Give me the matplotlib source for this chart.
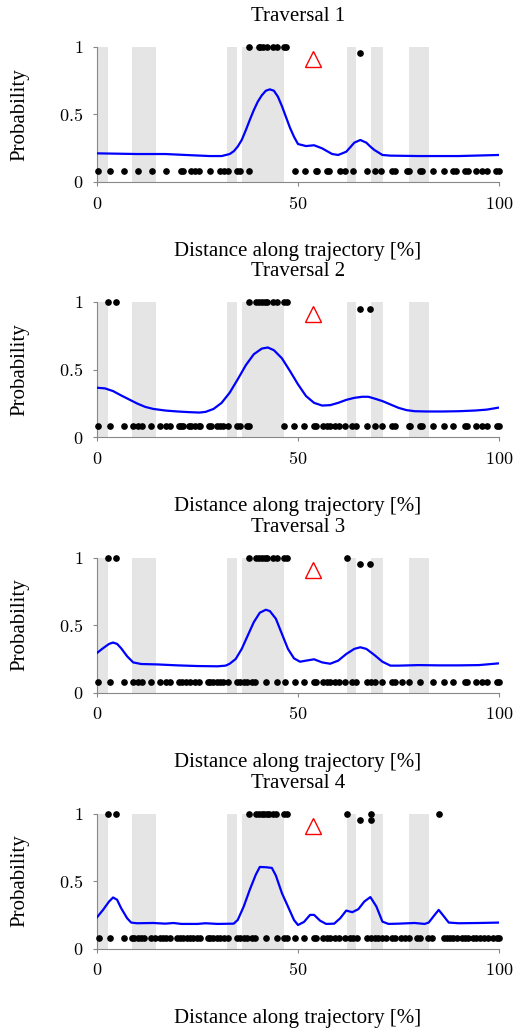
import matplotlib
matplotlib.use("Agg")
from matplotlib import pyplot as plt

plt.rcParams['font.family'] = ['Liberation Serif', 'DejaVu Serif']
plt.rcParams['mathtext.fontset'] = 'cm'

# shaded segments along the trajectory [%]
spans = [(0, 2.7), (8.8, 14.7), (32.4, 34.8), (36.1, 46.5),
         (62.2, 64.5), (68.2, 71.1), (77.5, 82.5)]

marker_x = 53.7
marker_y = 0.91

titles = ["Traversal 1", "Traversal 2", "Traversal 3", "Traversal 4"]

# --- Traversal 1 ---
low1 = [0.2, 3.3, 6.6, 10.2, 13.7, 17.2, 20.9, 21.4, 23.4, 24.4, 25.4, 28.0, 30.5, 31.5,
        32.7, 34.8, 35.5, 37.9, 49.3, 51.8, 54.4, 54.8, 57.2, 57.8, 60.5, 61.7, 63.6,
        67.1, 69.2, 70.7, 73.3, 74.2, 77.1, 77.7, 80.4, 80.8, 83.5, 86.2, 88.6, 89.3,
        91.6, 92.2, 94.3, 95.7, 97.1, 99.3, 100.0]
high1_x = [37.9, 40.2, 40.6, 41.2, 42.4, 43.7, 44.7, 46.4, 47.0, 65.5]
high1_y = [1, 1, 1, 1, 1, 1, 1, 1, 1, 0.95]
curve1_x = [0, 10, 17, 22, 28, 31, 33, 34, 35, 36, 37, 38, 39, 40, 41, 42, 43, 44, 45, 46,
            47, 48, 49, 50, 52, 54, 56, 58.5, 60, 62, 63, 64, 65.5, 67, 68, 69, 71, 73,
            80, 90, 100]
curve1_y = [0.21, 0.205, 0.205, 0.198, 0.19, 0.19, 0.205, 0.225, 0.26, 0.309, 0.38, 0.457,
            0.53, 0.593, 0.64, 0.674, 0.684, 0.674, 0.63, 0.56, 0.48, 0.40, 0.333, 0.279,
            0.264, 0.27, 0.247, 0.205, 0.198, 0.222, 0.255, 0.289, 0.309, 0.289, 0.26,
            0.235, 0.198, 0.193, 0.19, 0.19, 0.198]

# --- Traversal 2 ---
low2 = [0.2, 3.3, 6.6, 8.9, 10.1, 11.2, 13.5, 15.7, 17.2, 18.1, 20.5, 21.0, 21.5, 22.8,
        23.4, 24.3, 25.3, 25.7, 27.8, 28.4, 29.8, 30.5, 31.3, 32.6, 34.8, 35.5, 37.3,
        37.9, 46.6, 49.1, 51.5, 53.9, 54.5, 56.3, 57.2, 58.0, 59.1, 60.1, 61.6, 63.4,
        64.5, 67.1, 69.2, 70.8, 73.3, 74.2, 77.5, 77.9, 80.4, 80.8, 83.5, 86.2, 88.6,
        91.6, 92.0, 94.4, 95.7, 96.9, 99.4, 100.0]
high2_x = [2.7, 4.8, 37.9, 39.6, 40.2, 41.0, 41.8, 42.4, 43.9, 44.7, 46.6, 47.2, 65.5, 67.9]
high2_y = [1, 1, 1, 1, 1, 1, 1, 1, 1, 1, 1, 1, 0.95, 0.95]
curve2_x = [0, 2, 4, 6, 8, 10, 12, 14, 17, 20, 23, 25.5, 27, 29, 31, 33, 35, 37, 39, 41,
            42.5, 44, 46, 48, 50, 52, 54, 56, 58, 60, 62, 64, 66, 67.5, 69, 71, 73, 75,
            77, 79, 82, 86, 90, 94, 97, 100]
curve2_y = [0.365, 0.36, 0.34, 0.308, 0.278, 0.248, 0.223, 0.208, 0.196, 0.189, 0.184,
            0.181, 0.186, 0.208, 0.253, 0.328, 0.427, 0.531, 0.613, 0.655, 0.663, 0.643,
            0.583, 0.489, 0.39, 0.303, 0.253, 0.233, 0.236, 0.253, 0.275, 0.29, 0.298,
            0.298, 0.285, 0.266, 0.241, 0.216, 0.199, 0.191, 0.189, 0.189, 0.191, 0.196,
            0.203, 0.218]

# --- Traversal 3 ---
low3 = [0.2, 3.3, 6.6, 8.9, 10.1, 11.2, 13.5, 15.7, 17.2, 18.2, 20.5, 21.1, 22.2, 23.2,
        24.3, 25.3, 27.6, 28.2, 28.8, 29.8, 30.5, 31.3, 32.6, 34.8, 35.5, 36.5, 37.3,
        38.5, 39.4, 42.1, 44.7, 46.8, 49.3, 51.5, 53.9, 54.5, 56.3, 57.2, 58.0, 59.1,
        60.1, 61.6, 63.4, 64.5, 67.1, 68.1, 69.2, 70.8, 73.3, 74.2, 75.8, 77.5, 80.4,
        83.5, 86.2, 88.6, 91.6, 92.0, 94.4, 95.7, 96.9, 99.4, 100.0]
high3_x = [2.7, 4.8, 37.9, 39.6, 40.2, 41.0, 41.8, 42.4, 43.9, 44.7, 46.6, 47.2, 62.3,
           65.5, 67.9]
high3_y = [1, 1, 1, 1, 1, 1, 1, 1, 1, 1, 1, 1, 1, 0.95, 0.95]
curve3_x = [0, 1.5, 3, 4, 5, 6, 7.5, 9, 11, 15, 20, 25, 30, 32, 33, 34.5, 36, 37.5, 39,
            40.5, 42, 43, 44.5, 46, 47.5, 49, 50.5, 52, 54, 56, 58, 60, 62, 64, 65.5, 67,
            69, 71, 73, 75, 80, 85, 90, 95, 100]
curve3_y = [0.293, 0.328, 0.36, 0.37, 0.36, 0.328, 0.268, 0.223, 0.211, 0.208, 0.201,
            0.196, 0.194, 0.199, 0.213, 0.248, 0.323, 0.422, 0.521, 0.591, 0.613, 0.603,
            0.546, 0.434, 0.323, 0.253, 0.228, 0.236, 0.246, 0.223, 0.213, 0.236, 0.285,
            0.323, 0.335, 0.323, 0.278, 0.228, 0.199, 0.199, 0.203, 0.201, 0.201, 0.203,
            0.216]

# --- Traversal 4 ---
low4 = [0.4, 3.3, 6.6, 8.7, 9.3, 10.1, 11.0, 11.8, 13.5, 14.5, 15.6, 16.4, 17.2, 18.1,
        20.0, 20.7, 21.5, 22.4, 23.2, 23.9, 24.9, 25.5, 27.6, 28.2, 28.8, 29.8, 30.7,
        31.5, 32.6, 34.8, 35.5, 36.5, 37.3, 38.5, 39.4, 42.1, 44.7, 46.4, 47.2, 49.3,
        51.5, 53.9, 54.5, 56.3, 57.2, 58.0, 59.1, 60.1, 61.6, 63.0, 63.8, 64.6, 67.1,
        68.1, 69.2, 70.0, 70.8, 71.9, 73.3, 74.2, 75.6, 76.5, 77.5, 79.5, 80.4, 82.4,
        83.3, 86.2, 87.0, 87.8, 88.6, 89.5, 90.7, 91.6, 92.4, 93.6, 94.4, 95.3, 96.3,
        97.3, 98.6, 99.4, 100.0]
high4_x = [2.7, 4.8, 37.9, 39.6, 40.2, 41.0, 41.6, 42.3, 42.9, 43.9, 44.6, 46.4, 47.2,
           62.3, 68.1, 85.0, 65.5, 68.1]
high4_y = [1, 1, 1, 1, 1, 1, 1, 1, 1, 1, 1, 1, 1, 1, 1, 1, 0.95, 0.95]
curve4_x = [0, 1.5, 3, 4, 5, 6, 7.5, 8.5, 10, 14, 17, 19, 21, 25, 27, 30, 34, 35, 36.5,
            38, 39.5, 40.5, 42, 43.5, 44.5, 46, 47.5, 49, 50, 51.5, 53, 54, 55.5, 57, 59,
            60.5, 62, 63.5, 65, 66.5, 68, 69.5, 71, 72.5, 75, 79, 81.5, 82.5, 84, 85, 86,
            87.5, 90, 95, 100]
curve4_y = [0.231, 0.286, 0.348, 0.378, 0.361, 0.299, 0.224, 0.192, 0.187, 0.189, 0.184,
            0.189, 0.182, 0.182, 0.187, 0.182, 0.184, 0.211, 0.311, 0.435, 0.547, 0.604,
            0.602, 0.597, 0.54, 0.41, 0.311, 0.211, 0.174, 0.197, 0.249, 0.249, 0.206,
            0.182, 0.184, 0.224, 0.281, 0.269, 0.291, 0.348, 0.381, 0.311, 0.199, 0.182,
            0.184, 0.189, 0.182, 0.192, 0.249, 0.286, 0.249, 0.192, 0.187, 0.189, 0.192]

low_y = 0.08

panels = [
    (low1, high1_x, high1_y, curve1_x, curve1_y),
    (low2, high2_x, high2_y, curve2_x, curve2_y),
    (low3, high3_x, high3_y, curve3_x, curve3_y),
    (low4, high4_x, high4_y, curve4_x, curve4_y),
]

W, H = 516, 1032
fig = plt.figure(figsize=(W / 100, H / 100), dpi=100)

ax_left, ax_w, ax_h = 97, 402, 135
tops = [46.7, 302.0, 557.5, 813.5]

for i, (low, hx, hy, cx, cy) in enumerate(panels):
    top = tops[i]
    ax = fig.add_axes([ax_left / W, 1 - (top + ax_h) / H, ax_w / W, ax_h / H])

    for a, b in spans:
        ax.axvspan(a, b, ymin=0, ymax=1, color="#e5e5e5", lw=0, zorder=0)

    ax.plot(cx, cy, color="blue", lw=1.6, zorder=3, solid_joinstyle="round")
    ax.plot(low, [low_y] * len(low), "o", color="black", ms=3.8, clip_on=False, zorder=4)
    ax.plot(hx, hy, "o", color="black", ms=3.8, clip_on=False, zorder=4)
    ax.plot([marker_x], [marker_y], "^", mfc="none", mec="red", ms=11, mew=1.0, zorder=5)

    ax.set_xlim(0, 100)
    ax.set_ylim(0, 1)
    ax.set_xticks([0, 50, 100])
    ax.set_xticklabels(["$0$", "$50$", "$100$"])
    ax.set_yticks([0, 0.5, 1])
    ax.set_yticklabels(["$0$", "$0.5$", "$1$"])
    ax.tick_params(length=3, width=0.8, color="#888888", pad=7, labelsize=13)
    for s in ["top", "right"]:
        ax.spines[s].set_visible(False)
    for s in ["left", "bottom"]:
        ax.spines[s].set_color("#888888")
        ax.spines[s].set_linewidth(0.8)

    ax.text(0.5, 1 + 30 / ax_h, titles[i], transform=ax.transAxes,
            ha="center", va="center", fontsize=15)
    ax.set_xlabel("Distance along trajectory [%]", fontsize=15)
    ax.xaxis.set_label_coords(0.5, -70 / ax_h)
    ax.xaxis.label.set_va("center")
    ax.set_ylabel("Probability", fontsize=15)
    ax.yaxis.set_label_coords(-68 / ax_w, 0.5)

fig.savefig("out.png", dpi=100)
